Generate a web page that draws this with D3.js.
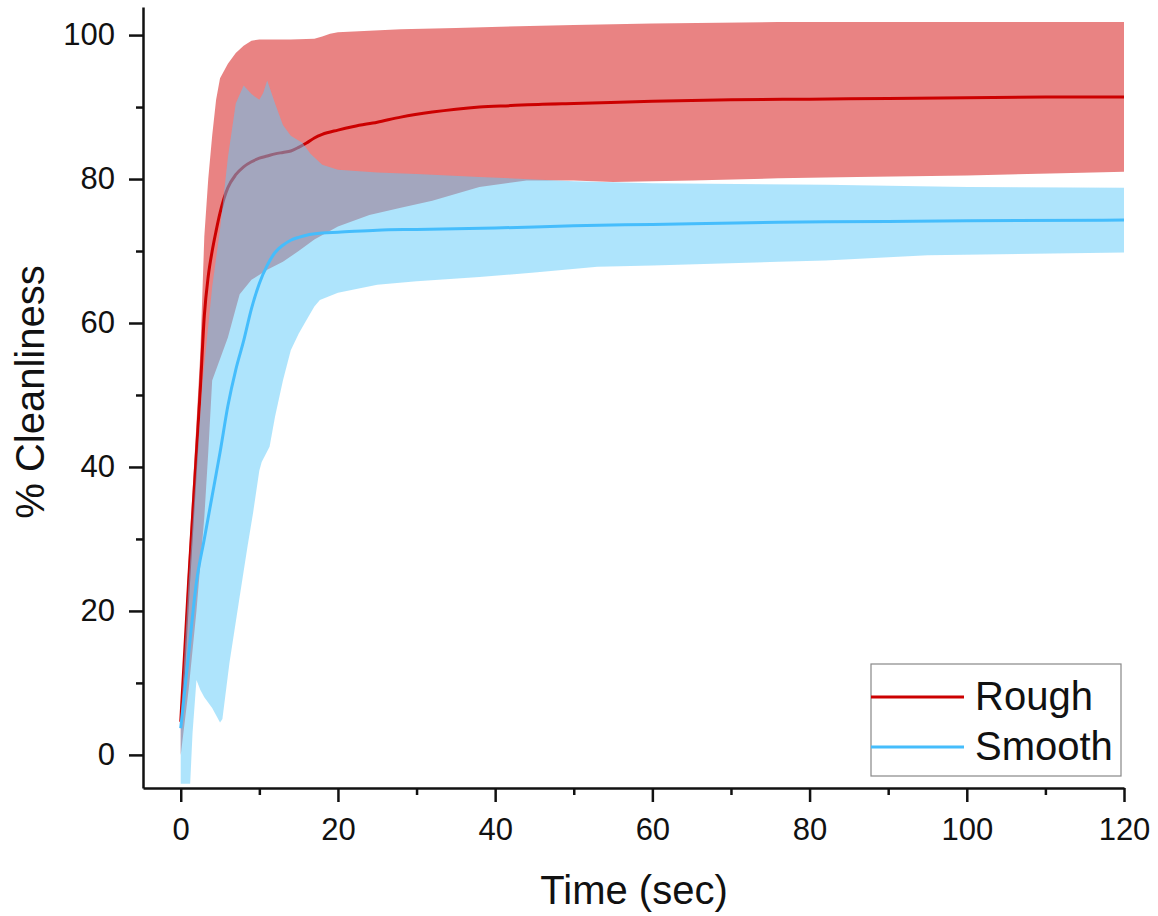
<!DOCTYPE html>
<html>
<head>
<meta charset="utf-8">
<script src="https://cdn.jsdelivr.net/npm/d3@7"></script>
<style>
  body { margin: 0; background: #fff; }
  text { font-family: "Liberation Sans", Arial, sans-serif; fill: #111; }
</style>
</head>
<body>
<svg id="chart" width="1158" height="916"></svg>
<script>
// [time (sec), % cleanliness]
const roughMean = [[0,4.6],[1,24],[2,42],[2.5,51],[3,61],[3.5,66.5],[4,70],[4.5,72.8],[5,75.3],[5.5,77.3],[6,78.8],[7,80.6],[8,81.7],[9,82.4],[10,82.9],[11,83.2],[12,83.5],[13,83.7],[14,83.9],[15,84.4],[16,85],[17,85.7],[18,86.2],[20,86.8],[22,87.3],[25,87.9],[28,88.6],[32,89.3],[35,89.7],[38,90],[42,90.2],[46,90.4],[50,90.5],[60,90.8],[70,91],[80,91.1],[90,91.2],[100,91.3],[110,91.4],[120,91.4]];
const roughUpper = [[0,5.5],[1,27],[2,46],[2.5,56],[3,72],[3.5,80],[4,86],[4.5,91],[5,94],[6,96],[7,97.5],[8,98.5],[9,99.2],[10,99.4],[12,99.4],[14,99.4],[17,99.5],[18,99.8],[19,100.2],[20,100.4],[24,100.6],[28,100.8],[35,101],[50,101.4],[60,101.6],[76,101.8],[120,101.8]];
const roughLower = [[0,0],[1,9],[2,20],[3,33],[3.5,42],[4,52],[5,55],[6,58],[7,62],[7.5,64],[9,66],[11,67.4],[13,68.5],[15,70],[17,71.6],[20,73.4],[24,75],[28,76],[32,77],[38,78.9],[44,79.8],[50,79.8],[55,79.6],[65,79.8],[76,80.1],[86,80.3],[100,80.5],[112,80.8],[120,81]];

const smoothMean = [[0,3.7],[1,14],[2,24],[3,30],[4,36],[5,42],[6,48.5],[7,53.5],[8,57.5],[9,62],[10,65.5],[11,68],[12,69.8],[13,70.8],[14,71.5],[15,71.9],[16,72.2],[18,72.5],[20,72.6],[25,72.9],[30,73],[40,73.2],[50,73.5],[60,73.7],[76,74],[90,74.1],[100,74.2],[120,74.3]];
const smoothUpper = [[0,5],[1,24],[2,40],[2.8,52],[4,65],[5,73],[5.5,78],[6,83],[7,90.5],[8,93],[9,91.8],[10,91],[10.5,92],[11,93.7],[12,90.5],[13,87.5],[14,86],[15.5,85],[16.5,83.5],[18,82],[20,81.3],[25,80.9],[30,80.7],[38,80.3],[50,79.7],[60,79.4],[82,79.2],[100,78.9],[120,78.8]];
const smoothLower = [[0,-4],[1.2,-4],[1.5,3],[2,10.4],[2.5,9],[3,8],[4,6.5],[5,4.5],[5.3,5],[6.2,12.8],[7.5,22],[8.5,29],[9.2,33.6],[10,39.5],[10.3,40.7],[11.3,42.8],[12,47],[13,52],[14,56.2],[15,58.5],[16,60.4],[17,62.3],[17.7,63.2],[20,64.2],[25,65.3],[30,65.8],[38,66.4],[45,67],[53,67.8],[60,68],[76,68.5],[82,68.7],[95,69.4],[120,69.8]];

const xTicks = [0, 20, 40, 60, 80, 100, 120];
const xMinor = [10, 30, 50, 70, 90, 110];
const yTicks = [0, 20, 40, 60, 80, 100];
const yMinor = [10, 30, 50, 70, 90];
const seriesNames = ["Rough", "Smooth"];

const svg = d3.select('#chart');
const x = d3.scaleLinear().domain([-4.8, 120]).range([143, 1124]);
const y = d3.scaleLinear().domain([-4.6, 103.9]).range([788, 7]);

const line = d3.line().x(d => x(d[0])).y(d => y(d[1]));
const meanLine = d3.line().x(d => x(d[0])).y(d => y(d[1])).curve(d3.curveMonotoneX);
const band = (up, low) => line(up.concat(low.slice().reverse())) + 'Z';

// rough band + line, then smooth band over it (semi transparent), then smooth line
svg.append('path').attr('d', band(roughUpper, roughLower))
  .attr('fill', '#d30707').attr('fill-opacity', 0.5);
svg.append('path').attr('d', meanLine(roughMean))
  .attr('fill', 'none').attr('stroke', '#cc0000').attr('stroke-width', 3);
svg.append('path').attr('d', band(smoothUpper, smoothLower))
  .attr('fill', '#5dc9f9').attr('fill-opacity', 0.5);
svg.append('path').attr('d', meanLine(smoothMean))
  .attr('fill', 'none').attr('stroke', '#45bdfc').attr('stroke-width', 3);

// axes
svg.append('g').attr('transform', 'translate(0,788)')
  .call(d3.axisBottom(x).tickValues(xTicks).tickSize(14).tickSizeOuter(0).tickPadding(16));
svg.append('g').attr('transform', 'translate(0,788)')
  .call(d3.axisBottom(x).tickValues(xMinor).tickSize(7).tickSizeOuter(0).tickFormat(''))
  .select('.domain').remove();
svg.append('g').attr('transform', 'translate(143,0)')
  .call(d3.axisLeft(y).tickValues(yTicks).tickSize(14).tickSizeOuter(0).tickPadding(14));
svg.append('g').attr('transform', 'translate(143,0)')
  .call(d3.axisLeft(y).tickValues(yMinor).tickSize(7).tickSizeOuter(0).tickFormat(''))
  .select('.domain').remove();

svg.selectAll('.domain').attr('stroke', '#111').attr('stroke-width', 2.5);
svg.selectAll('.tick line').attr('stroke', '#111').attr('stroke-width', 2.5);
svg.selectAll('.tick text').attr('font-size', 31).attr('font-family', '"Liberation Sans", Arial, sans-serif').attr('fill', '#111');

svg.append('text').attr('x', 634).attr('y', 904).attr('text-anchor', 'middle')
  .attr('font-size', 40).text('Time (sec)');
svg.append('text').attr('transform', 'translate(44,392) rotate(-90)').attr('text-anchor', 'middle')
  .attr('font-size', 40).text('% Cleanliness');

// legend
const legend = svg.append('g');
legend.append('rect').attr('x', 871).attr('y', 664).attr('width', 250).attr('height', 112)
  .attr('fill', '#fff').attr('stroke', '#888').attr('stroke-width', 1.2);
const legendColors = ['#cc0000', '#45bdfc'];
seriesNames.forEach((name, i) => {
  const ly = 697 + i * 50;
  legend.append('line').attr('x1', 871).attr('x2', 964).attr('y1', ly).attr('y2', ly)
    .attr('stroke', legendColors[i]).attr('stroke-width', 3);
  legend.append('text').attr('x', 975).attr('y', ly + 13).attr('font-size', 40).text(name);
});
</script>
</body>
</html>
